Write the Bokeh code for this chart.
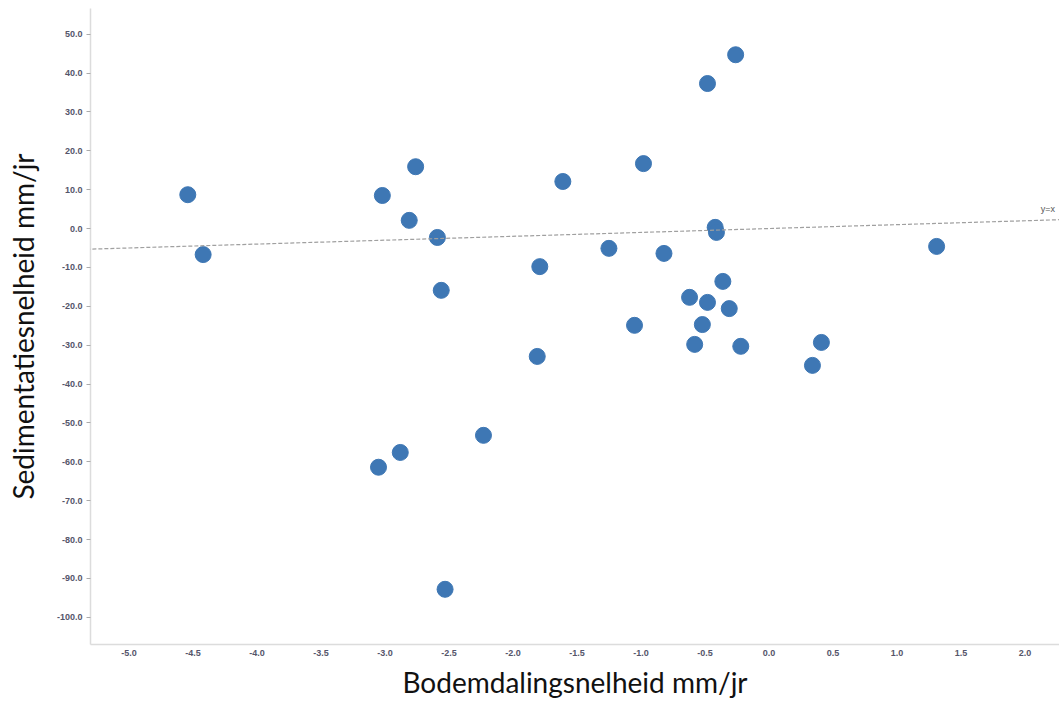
from bokeh.plotting import figure
from bokeh.models import FixedTicker, NumeralTickFormatter, Slope, Label
from bokeh.embed import file_html
from bokeh.resources import INLINE

# Data
bodemdaling = [-4.54, -4.42, -3.02, -3.05, -2.76, -2.81, -2.88, -2.59, -2.56, -2.53,
               -2.23, -1.79, -1.81, -1.61, -1.25, -0.98, -1.05, -0.82, -0.62, -0.58,
               -0.52, -0.48, -0.48, -0.42, -0.41, -0.36, -0.31, -0.26, -0.22, 0.34,
               0.41, 1.31]
sedimentatie = [8.7, -6.7, 8.5, -61.4, 15.9, 2.1, -57.6, -2.3, -15.9, -92.8,
                -53.2, -9.8, -32.9, 12.1, -5.1, 16.7, -24.9, -6.4, -17.7, -29.8,
                -24.7, -19.0, 37.3, 0.3, -1.0, -13.6, -20.6, 44.7, -30.3, -35.2,
                -29.3, -4.6]
x_ticks = [-5.0, -4.5, -4.0, -3.5, -3.0, -2.5, -2.0, -1.5, -1.0, -0.5, 0.0, 0.5, 1.0, 1.5, 2.0]
y_ticks = [-100, -90, -80, -70, -60, -50, -40, -30, -20, -10, 0, 10, 20, 30, 40, 50]
x_title = "Bodemdalingsnelheid mm/jr"
y_title = "Sedimentatiesnelheid mm/jr"

p = figure(width=1059, height=702, output_backend="svg", toolbar_location=None,
           x_range=(-5.30, 2.27), y_range=(-107.0, 56.6),
           min_border_left=90, min_border_right=0, min_border_top=8, min_border_bottom=58)
p.outline_line_color = None
p.xgrid.visible = False
p.ygrid.visible = False

p.add_layout(Slope(gradient=1, y_intercept=0, line_color="#a0a0a0", line_width=1.2,
                   line_dash="4 2"))
p.add_layout(Label(x=2.18, y=3.8, text="y=x", text_font_size="9px", text_color="#555555",
                   text_font="Liberation Sans", text_align="center"))

p.scatter(bodemdaling, sedimentatie, size=16, fill_color="#3e77b4", line_color="#3e77b4",
          fill_alpha=1.0)

for ax in (p.xaxis[0], p.yaxis[0]):
    ax.axis_line_color = "#dcdcdc"
    ax.axis_line_width = 1.5
    ax.major_label_text_font = "Liberation Sans"
    ax.major_label_text_font_size = "9px"
    ax.major_label_text_font_style = "bold"
    ax.major_label_text_color = "#55556a"
    ax.minor_tick_line_color = None
    ax.axis_label_text_font = "Lato"
    ax.axis_label_text_font_style = "normal"
    ax.axis_label_text_font_size = "28px"
    ax.axis_label_text_color = "#111111"
    ax.formatter = NumeralTickFormatter(format="0.0")

p.xaxis[0].ticker = FixedTicker(ticks=x_ticks)
p.yaxis[0].ticker = FixedTicker(ticks=y_ticks)
p.xaxis[0].major_tick_line_color = None
p.xaxis[0].major_tick_out = 0
p.xaxis[0].major_tick_in = 0
p.xaxis[0].major_label_standoff = 5
p.yaxis[0].major_tick_line_color = "#aaaaaa"
p.yaxis[0].major_tick_out = 4
p.yaxis[0].major_tick_in = 0
p.yaxis[0].major_label_standoff = 4
p.xaxis[0].axis_label = x_title
p.yaxis[0].axis_label = y_title
p.xaxis[0].axis_label_standoff = 6
p.yaxis[0].axis_label_standoff = 14

open("out.html", "w").write(file_html(p, INLINE))
